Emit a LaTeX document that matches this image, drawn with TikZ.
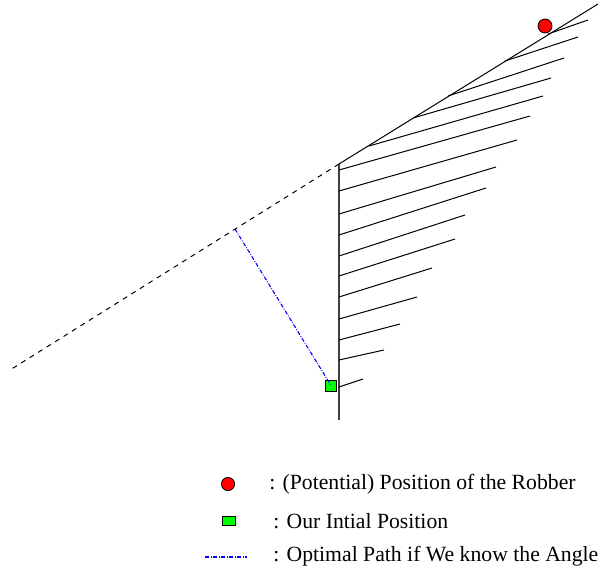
\documentclass[tikz,border=0pt]{standalone}
\usepackage{fontspec}
\setmainfont{Liberation Serif}
\usetikzlibrary{positioning}
\definecolor{robberred}{HTML}{FF0000}
\definecolor{startgreen}{HTML}{00FF00}
\definecolor{pathblue}{HTML}{0000FF}
\tikzset{
  hatch/.style={black,line width=0.5pt},
  wall/.style={black!75,line width=0.75pt},
  extension/.style={black,line width=0.5pt,dash pattern=on 2.5pt off 2.5pt},
  optpath/.style={pathblue,line width=0.55pt,dash pattern=on 2pt off 0.8pt on 0.4pt off 0.8pt},
  robbermark/.style={circle,draw=black,line width=0.4pt,fill=robberred,inner sep=0pt},
  startmark/.style={rectangle,draw=black,line width=0.5pt,fill=startgreen,inner sep=0pt},
  legendtext/.style={anchor=west,inner sep=0pt,font=\fontsize{10.85}{13}\selectfont}
}

\begin{document}
\begin{tikzpicture}[x=0.5pt,y=-0.5pt]
\useasboundingbox (0,0) rectangle (598,571);
\coordinate (apex) at (339,164);
\coordinate (ridgeend) at (598,4);
\coordinate (wallend) at (339,420);
\coordinate (farend) at (10,370);
\coordinate (foot) at (235,229);
\draw[hatch] (apex) -- (ridgeend);
\draw[wall] (apex) -- (wallend);
\draw[extension] (apex) -- (farend);
\draw[hatch] (548,34) -- (588,20);
\draw[hatch] (505,61) -- (578,37);
\draw[hatch] (448,96) -- (564,58);
\draw[hatch] (413,118) -- (551,78);
\draw[hatch] (369,146) -- (543,96);
\draw[hatch] (339,170) -- (530,116);
\draw[hatch] (339,191) -- (517,140);
\draw[hatch] (339,214) -- (496,167);
\draw[hatch] (339,235) -- (486,188);
\draw[hatch] (339,256) -- (465,215);
\draw[hatch] (339,276) -- (455,239);
\draw[hatch] (339,297) -- (432,268);
\draw[hatch] (339,319) -- (417,297);
\draw[hatch] (339,340) -- (400,324);
\draw[hatch] (339,360) -- (384,350);
\draw[hatch] (339,387) -- (363,379);
\node[robbermark,minimum size=7pt] (robber) at (545,26) {};
\node[startmark,minimum width=5.8pt,minimum height=5.5pt] (start) at (331,385.5) {};
\draw[optpath] (foot) -- (start.center);
\node[robbermark,minimum size=6.6pt] (keyrobber) at (228,484) {};
\node[legendtext] (keyrobbertext) at (269,484) {: (Potential) Position of the Robber};
\node[legendtext] (keystarttext) at (273,521) {: Our Intial Position};
\node[startmark,minimum width=6.2pt,minimum height=4.2pt] (keystart) at (229,521) {};
\coordinate (keypathA) at (205,557);
\coordinate (keypathB) at (247,557);
\draw[optpath] (keypathA) -- (keypathB);
\node[legendtext] (keypathtext) at (273,556) {: Optimal Path if We know the Angle};
\end{tikzpicture}
\end{document}
